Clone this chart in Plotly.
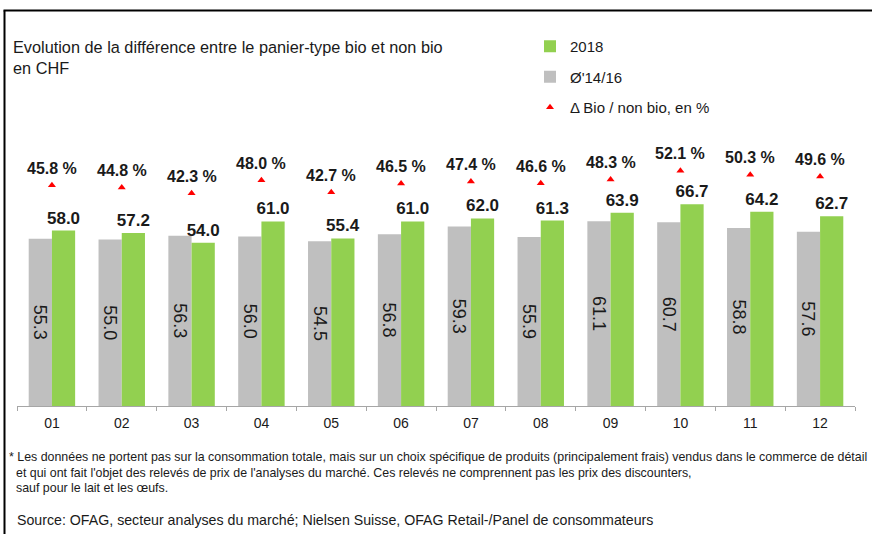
import plotly.graph_objects as go

months = ["01", "02", "03", "04", "05", "06", "07", "08", "09", "10", "11", "12"]
avg_14_16 = [55.3, 55.0, 56.3, 56.0, 54.5, 56.8, 59.3, 55.9, 61.1, 60.7, 58.8, 57.6]
val_2018 = [58.0, 57.2, 54.0, 61.0, 55.4, 61.0, 62.0, 61.3, 63.9, 66.7, 64.2, 62.7]
delta_pct = [45.8, 44.8, 42.3, 48.0, 42.7, 46.5, 47.4, 46.6, 48.3, 52.1, 50.3, 49.6]

GREEN = "#92D050"
GRAY = "#BFBFBF"
RED = "#FF0000"
TXT = "#1a1a1a"
FONT = "Liberation Sans, Arial, sans-serif"

# pixel geometry helpers (plot area)
L, R, T, B = 17, 17, 140, 128
W, H = 872 - L - R, 534 - T - B
def px(x):
    return (x - L) / W
def py(y):
    return (534 - B - y) / H

fig = go.Figure()

fig.add_trace(go.Bar(
    x=months, y=avg_14_16, name="Ø'14/16",
    marker=dict(color=GRAY, line=dict(width=0)),
    text=[f"{v:.1f}" for v in avg_14_16],
    textposition="inside", insidetextanchor="middle", textangle=90,
    constraintext="none",
    textfont=dict(family=FONT, size=18, color=TXT),
    legendgroup="b", legendrank=2, hoverinfo="skip",
))
fig.add_trace(go.Bar(
    x=months, y=val_2018, name="2018",
    marker=dict(color=GREEN, line=dict(width=0)),
    text=[f"<b>{v:.1f}</b>" for v in val_2018],
    textposition="outside", constraintext="none", cliponaxis=False,
    textfont=dict(family=FONT, size=17, color=TXT),
    legendgroup="a", legendrank=1, hoverinfo="skip",
))
fig.add_trace(go.Scatter(
    x=months, y=delta_pct, name="Δ Bio / non bio, en %", yaxis="y2",
    mode="markers",
    marker=dict(symbol="triangle-up", size=7, color=RED),
    legendgroup="c", legendrank=3, hoverinfo="skip", cliponaxis=False,
))

annotations = []
for i, d in enumerate(delta_pct):
    annotations.append(dict(
        x=i, y=d, xref="x", yref="y2", yshift=17, showarrow=False,
        text=f"<b>{d:.1f} %</b>", yanchor="middle", xanchor="center",
        font=dict(family=FONT, size=16, color=TXT),
    ))

annotations.append(dict(
    xref="paper", yref="paper", x=px(11), y=py(36), xanchor="left", yanchor="top",
    align="left", showarrow=False,
    text="Evolution de la différence entre le panier-type bio et non bio<br>en CHF",
    font=dict(family=FONT, size=16.3, color=TXT),
))

foot = [
    (7, 457, "* Les données ne portent pas sur la consommation totale, mais sur un choix spécifique de produits (principalement frais) vendus dans le commerce de détail"),
    (14, 473, "et qui ont fait l'objet des relevés de prix de l'analyses du marché. Ces relevés ne comprennent pas les prix des discounters,"),
    (14, 488, "sauf pour le lait et les œufs."),
]
for xx, yy, t in foot:
    annotations.append(dict(
        xref="paper", yref="paper", x=px(xx), y=py(yy), xanchor="left", yanchor="middle",
        showarrow=False, text=t, font=dict(family=FONT, size=12.4, color=TXT),
    ))
annotations.append(dict(
    xref="paper", yref="paper", x=px(15), y=py(520), xanchor="left", yanchor="middle",
    showarrow=False,
    text="Source: OFAG, secteur analyses du marché; Nielsen Suisse, OFAG Retail-/Panel de consommateurs",
    font=dict(family=FONT, size=14.2, color=TXT),
))

shapes = [
    dict(type="line", xref="paper", yref="paper", x0=px(4.5), x1=px(4.5), y0=py(540), y1=py(10.5),
         line=dict(color="black", width=2)),
    dict(type="line", xref="paper", yref="paper", x0=px(3.5), x1=px(880), y0=py(10.5), y1=py(10.5),
         line=dict(color="black", width=2)),
]

fig.update_layout(
    width=872, height=534,
    margin=dict(l=L, r=R, t=T, b=B, pad=0),
    paper_bgcolor="white", plot_bgcolor="white",
    barmode="group", bargap=0.335, bargroupgap=0,
    font=dict(family=FONT, color=TXT),
    xaxis=dict(
        type="category", range=[-0.5, 11.5], autorange=False,
        showgrid=False, showline=True, linecolor="#A6A6A6", linewidth=1,
        ticks="outside", ticklen=4, tickcolor="#A6A6A6", tickson="boundaries",
        ticklabelstandoff=4,
        tickfont=dict(family=FONT, size=14, color=TXT), zeroline=False,
    ),
    yaxis=dict(range=[0, 87.93], visible=False, showgrid=False, zeroline=False),
    yaxis2=dict(range=[-49.78, 65.37], overlaying="y", visible=False, showgrid=False, zeroline=False),
    legend=dict(
        x=px(530), y=py(30), xanchor="left", yanchor="top",
        font=dict(family=FONT, size=15, color=TXT),
        traceorder="grouped", tracegroupgap=8, bgcolor="rgba(0,0,0,0)",
    ),
    showlegend=True,
    annotations=annotations,
    shapes=shapes,
)

fig.write_html("out.html", config={"displayModeBar": False},
               post_script="document.body.style.margin='0';document.body.style.padding='0';")
